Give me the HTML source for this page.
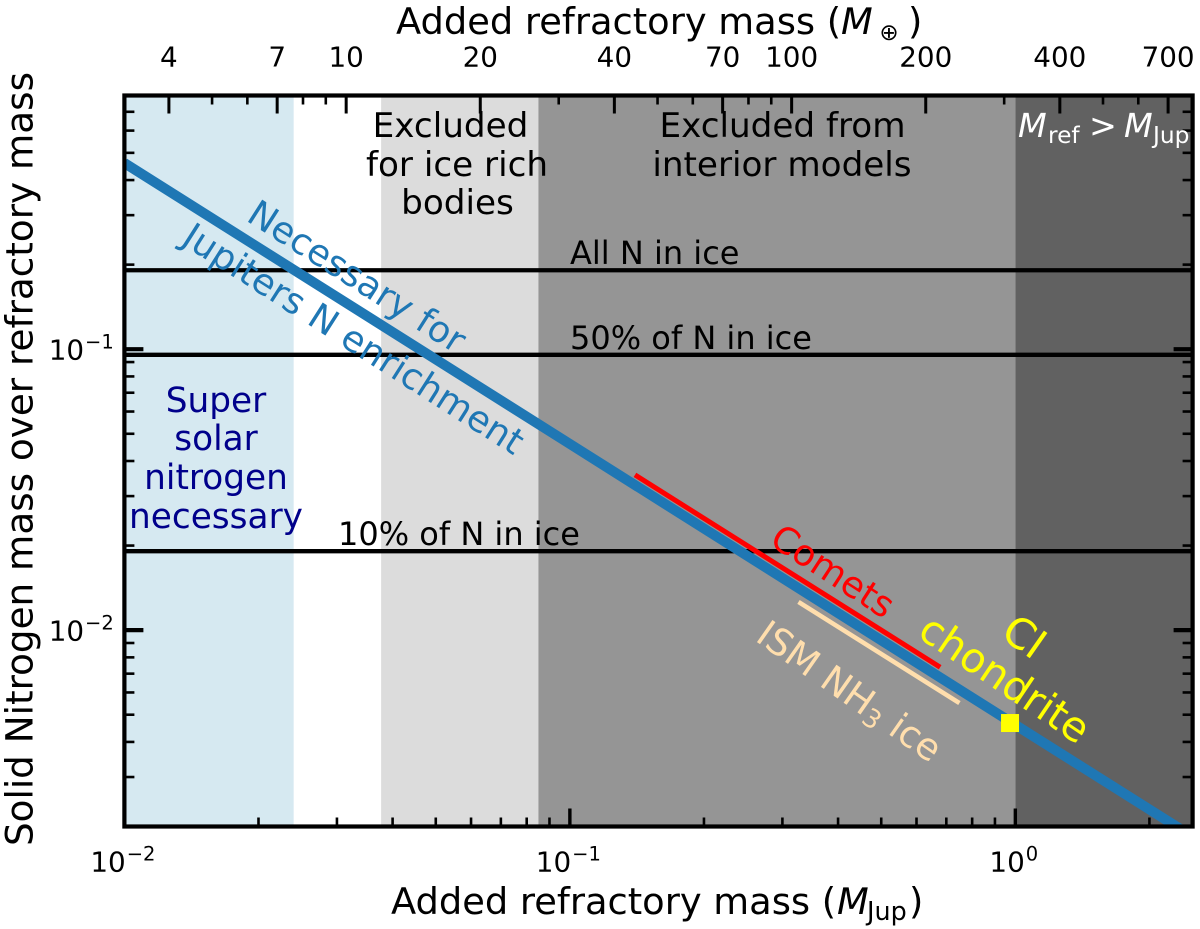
<!DOCTYPE html>
<html lang="en">
<head>
<meta charset="utf-8">
<title>Solid nitrogen mass over refractory mass</title>
<style>
html,body{margin:0;padding:0;background:#fff;}
svg{display:block;font-family:"DejaVu Sans","Liberation Sans",sans-serif;}
</style>
</head>
<body>
<svg id="chart" xmlns="http://www.w3.org/2000/svg" width="1200" height="929" viewBox="0 0 1200 929">
  <defs><clipPath id="plot-clip"><rect x="124.4" y="95.5" width="1068.2" height="731"/></clipPath></defs>
  <g id="regions"></g>
  <g id="marks" clip-path="url(#plot-clip)"></g>
  <g id="ticks"></g>
  <rect x="124.4" y="95.5" width="1068.2" height="731" fill="none" stroke="#000" stroke-width="4.2"/>
  <g id="tick-labels" fill="#000" font-size="27.8"></g>

  <g font-size="36.8" fill="#000">
    <text x="396" y="34" xml:space="preserve">Added refractory mass (</text>
    <text x="841" y="34" font-style="italic">M</text>
    <text x="889" y="40" font-size="23" text-anchor="middle">⊕</text>
    <text x="908" y="34">)</text>
  </g>
  <g font-size="36.8" fill="#000">
    <text x="391" y="914" xml:space="preserve">Added refractory mass (</text>
    <text x="837" y="914" font-style="italic">M</text>
    <text x="867" y="920" font-size="25.4">Jup</text>
    <text x="909" y="914">)</text>
  </g>
  <text transform="translate(32.5 459) rotate(-90)" text-anchor="middle" font-size="37.3" fill="#000">Solid Nitrogen mass over refractory mass</text>

  <g font-size="34.2" fill="#000" text-anchor="middle">
    <text x="450.5" y="137">Excluded</text>
    <text x="457" y="176">for ice rich</text>
    <text x="457.5" y="214">bodies</text>
  </g>
  <g font-size="34.2" fill="#000" text-anchor="middle">
    <text x="782.5" y="137">Excluded from</text>
    <text x="782" y="176">interior models</text>
  </g>
  <g fill="#fff" font-size="33.3">
    <text x="1018" y="137" font-style="italic">M</text>
    <text x="1048" y="143" font-size="23.3">ref</text>
    <text x="1089" y="137">&gt;</text>
    <text x="1124" y="137" font-style="italic">M</text>
    <text x="1153" y="143" font-size="23.3">Jup</text>
  </g>
  <g font-size="34.3" fill="#00008b" text-anchor="middle">
    <text x="216" y="412">Super</text>
    <text x="216" y="450">solar</text>
    <text x="216" y="489">nitrogen</text>
    <text x="216" y="528">necessary</text>
  </g>
  <text x="570" y="264" font-size="32" fill="#000">All N in ice</text>
  <text x="570" y="349" font-size="32" fill="#000">50% of N in ice</text>
  <text x="338" y="545" font-size="32" fill="#000">10% of N in ice</text>

  <text transform="translate(245 220) rotate(32.5)" font-size="36.3" fill="#1f77b4">Necessary for</text>
  <text transform="translate(180 243) rotate(32.5)" font-size="36.3" fill="#1f77b4">Jupiters N enrichment</text>
  <text transform="translate(768 544) rotate(33)" font-size="36.3" fill="#ff0000">Comets</text>
  <text transform="translate(754 640) rotate(35)" font-size="37" fill="#ffdead">ISM NH<tspan font-size="26" dy="6">3</tspan><tspan dy="-6" xml:space="preserve"> ice</tspan></text>
  <text transform="translate(999 636.6) rotate(35)" font-size="42" fill="#ffff00">CI</text>
  <text transform="translate(916 636) rotate(34)" font-size="41" fill="#ffff00">chondrite</text>
</svg>
<script>
// ---- chart data ----
var regionEdges = [0.01, 0.024, 0.0377, 0.085, 1, 2.5];
var regionNames = ['super-solar-region', 'allowed-region', 'ice-rich-excluded-region', 'interior-excluded-region', 'above-jupiter-region'];
var regionColors = ['#d6e9f1', '#ffffff', '#dcdcdc', '#959595', '#616161'];
var iceFractionLevels = [0.191, 0.0955, 0.0191];
var necessaryX = [0.01, 0.1, 1, 2.5];
var necessaryY = [0.46, 0.046, 0.0046, 0.00184];
var cometsX = [0.14, 0.678];
var cometsY = [0.0357, 0.00738];
var ismX = [0.326, 0.749];
var ismY = [0.0126, 0.0055];
var chondriteX = [0.973];
var chondriteY = [0.00467];
var bottomMajor = [0.01, 0.1, 1];
var bottomMinor = [0.02, 0.03, 0.04, 0.05, 0.06, 0.07, 0.08, 0.09, 0.2, 0.3, 0.4, 0.5, 0.6, 0.7, 0.8, 0.9, 2];
var bottomLabels = ['−2', '−1', '0'];
var leftMajor = [0.01, 0.1];
var leftMinor = [0.003, 0.004, 0.005, 0.006, 0.007, 0.008, 0.009, 0.02, 0.03, 0.04, 0.05, 0.06, 0.07, 0.08, 0.09, 0.2, 0.3, 0.4, 0.5, 0.6, 0.7];
var leftLabels = ['−2', '−1'];
var topMajor = [4, 7, 10, 20, 40, 70, 100, 200, 400, 700];
var topMinor = [5, 6, 8, 9, 30, 50, 60, 80, 90, 300, 500, 600];
var earthPerJupiter = [317.8];

// ---- axis functions ----
var SVGNS = 'http://www.w3.org/2000/svg';
var X0 = 124.4, X1 = 1192.6, Y0 = 826.5, Y1 = 95.5;
var XMIN = 0.01, XMAX = 2.5, YMIN = 0.002, YMAX = 0.8;
function xAxis(v) { return X0 + (Math.log10(v) - Math.log10(XMIN)) / (Math.log10(XMAX) - Math.log10(XMIN)) * (X1 - X0); }
function yAxis(v) { return Y0 - (Math.log10(v) - Math.log10(YMIN)) / (Math.log10(YMAX) - Math.log10(YMIN)) * (Y0 - Y1); }
function earthAxis(v) { return xAxis(v / earthPerJupiter[0]); }

function drawLine(parent, x1, y1, x2, y2, color, width) {
  var el = document.createElementNS(SVGNS, 'line');
  el.setAttribute('x1', x1);
  el.setAttribute('y1', y1);
  el.setAttribute('x2', x2);
  el.setAttribute('y2', y2);
  el.setAttribute('stroke', color);
  el.setAttribute('stroke-width', width);
  parent.appendChild(el);
  return el;
}
function drawPolyline(parent, xs, ys, color, width) {
  var el = document.createElementNS(SVGNS, 'polyline');
  var pts = xs.map(function (x, i) { return xAxis(x) + ',' + yAxis(ys[i]); }).join(' ');
  el.setAttribute('points', pts);
  el.setAttribute('fill', 'none');
  el.setAttribute('stroke', color);
  el.setAttribute('stroke-width', width);
  parent.appendChild(el);
  return el;
}
function drawText(parent, x, y, content, anchor, size) {
  var el = document.createElementNS(SVGNS, 'text');
  el.setAttribute('x', x);
  el.setAttribute('y', y);
  el.setAttribute('text-anchor', anchor);
  if (size) { el.setAttribute('font-size', size); }
  el.textContent = content;
  parent.appendChild(el);
  return el;
}

var regions = document.getElementById('regions');
var marks = document.getElementById('marks');
var ticks = document.getElementById('ticks');
var tickLabels = document.getElementById('tick-labels');

regionColors.forEach(function (color, i) {
  var el = document.createElementNS(SVGNS, 'rect');
  el.setAttribute('x', xAxis(regionEdges[i]));
  el.setAttribute('y', Y1);
  el.setAttribute('width', xAxis(regionEdges[i + 1]) - xAxis(regionEdges[i]));
  el.setAttribute('height', Y0 - Y1);
  el.setAttribute('fill', color);
  
  
  regions.appendChild(el);
});

iceFractionLevels.forEach(function (level) {
  var el = drawLine(marks, X0, yAxis(level), X1, yAxis(level), '#000', 4.3);
  
  
});

var necessaryLine = drawPolyline(marks, necessaryX, necessaryY, '#1f77b4', 10);



var cometsLine = drawPolyline(marks, cometsX, cometsY, '#ff0000', 5);



var ismLine = drawPolyline(marks, ismX, ismY, '#ffdead', 4.5);



chondriteX.forEach(function (x, i) {
  var el = document.createElementNS(SVGNS, 'rect');
  el.setAttribute('x', xAxis(x) - 9);
  el.setAttribute('y', yAxis(chondriteY[i]) - 9);
  el.setAttribute('width', 18);
  el.setAttribute('height', 18);
  el.setAttribute('fill', '#ffff00');
  
  
  marks.appendChild(el);
});

bottomMajor.forEach(function (v, i) {
  var px = xAxis(v);
  var t = drawLine(ticks, px, Y0, px, Y0 - 18, '#000', 3.4);
  
  
  var base = drawText(tickLabels, px, 871.7, '10', 'start');
  
  
  var sup = drawText(tickLabels, px, 860.5, bottomLabels[i], 'start', 19.5);
  
  
  var baseWidth = base.getComputedTextLength();
  var supWidth = sup.getComputedTextLength();
  var startX = px - (baseWidth + supWidth) / 2 - 2;
  base.setAttribute('x', startX);
  sup.setAttribute('x', startX + baseWidth + 1);
});
bottomMinor.forEach(function (v) {
  var t = drawLine(ticks, xAxis(v), Y0, xAxis(v), Y0 - 9, '#000', 2.6);
  
  
});
leftMajor.forEach(function (v, i) {
  var py = yAxis(v);
  var t = drawLine(ticks, X0, py, X0 + 19, py, '#000', 4.2);
  
  
  var r = drawLine(ticks, X1, py, X1 - 19, py, '#000', 4.2);
  
  
  var base = drawText(tickLabels, 48.7, py + 10.3, '10', 'start');
  
  
  var sup = drawText(tickLabels, 85, py - 0.8, leftLabels[i], 'start', 19.5);
  
  
});
leftMinor.forEach(function (v) {
  var py = yAxis(v);
  var t = drawLine(ticks, X0, py, X0 + 10, py, '#000', 2.6);
  
  
  var r = drawLine(ticks, X1, py, X1 - 10, py, '#000', 2.6);
  
  
});
topMajor.forEach(function (v) {
  var px = earthAxis(v);
  var t = drawLine(ticks, px, Y1, px, Y1 + 18, '#000', 3);
  
  
  var label = drawText(tickLabels, px, 66.7, String(v), 'middle');
  
  
});
topMinor.forEach(function (v) {
  var px = earthAxis(v);
  var t = drawLine(ticks, px, Y1, px, Y1 + 9, '#000', 2.6);
  
  
});
</script>
</body>
</html>
